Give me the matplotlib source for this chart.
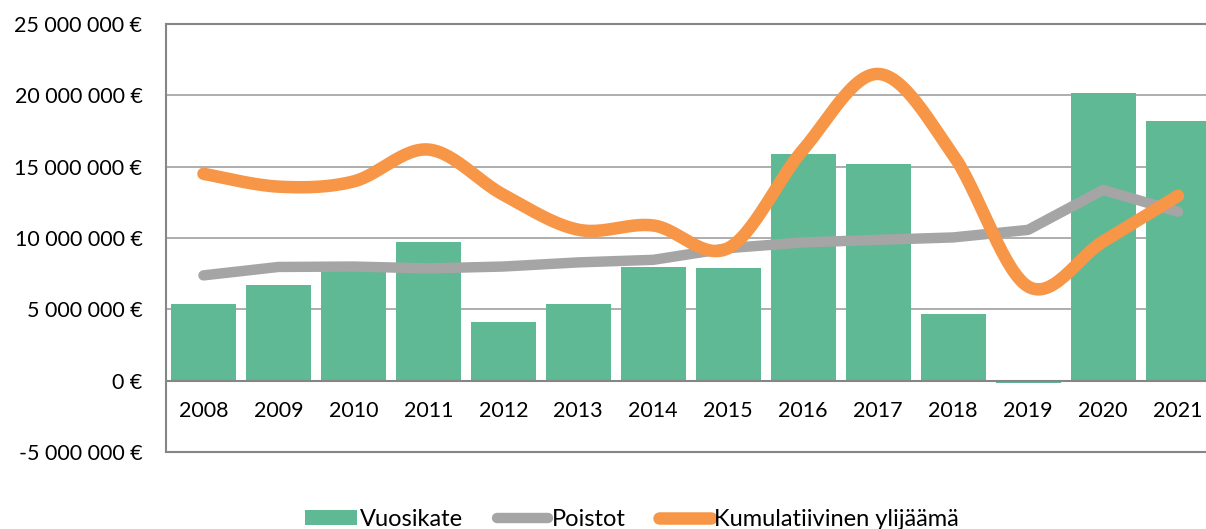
import numpy as np
import matplotlib.pyplot as plt
from matplotlib.ticker import FuncFormatter

vuodet = ['2008', '2009', '2010', '2011', '2012', '2013', '2014',
          '2015', '2016', '2017', '2018', '2019', '2020', '2021']
vuosikate = [5.40e6, 6.68e6, 7.70e6, 9.72e6, 4.13e6, 5.40e6, 7.98e6,
             7.91e6, 15.87e6, 15.22e6, 4.67e6, -0.16e6, 20.15e6, 18.19e6]
poistot = [7.38e6, 7.97e6, 8.00e6, 7.87e6, 8.00e6, 8.29e6, 8.47e6,
           9.29e6, 9.69e6, 9.87e6, 10.04e6, 10.57e6, 13.37e6, 11.84e6]
kumulatiivinen = [14.5e6, 13.6e6, 13.96e6, 16.2e6, 13.03e6, 10.58e6, 10.88e6,
                  9.29e6, 16.2e6, 21.5e6, 15.83e6, 6.6e6, 9.75e6, 12.96e6]

vihrea = '#5FB995'
harmaa = '#A5A5A5'
oranssi = '#F79646'

plt.rcParams['font.family'] = ['Lato', 'DejaVu Sans']


def tasoitus(y, n=30):
    # Excel-tyylinen pehmennetty viiva (Catmull-Rom -> Bezier)
    y = np.asarray(y, dtype=float)
    x = np.arange(len(y), dtype=float)
    px = np.concatenate([[x[0]], x, [x[-1]]])
    py = np.concatenate([[y[0]], y, [y[-1]]])
    xs, ys = [], []
    t = np.linspace(0, 1, n)
    for i in range(len(y) - 1):
        p0 = np.array([px[i + 1], py[i + 1]])
        p3 = np.array([px[i + 2], py[i + 2]])
        c1 = p0 + (np.array([px[i + 2], py[i + 2]]) - np.array([px[i], py[i]])) / 6
        c2 = p3 - (np.array([px[i + 3], py[i + 3]]) - np.array([px[i + 1], py[i + 1]])) / 6
        for k in t:
            b = ((1 - k) ** 3) * p0 + 3 * ((1 - k) ** 2) * k * c1 + 3 * (1 - k) * k ** 2 * c2 + k ** 3 * p3
            xs.append(b[0])
            ys.append(b[1])
    return np.array(xs), np.array(ys)


fig = plt.figure(figsize=(12.06, 5.29), dpi=100)
ax = fig.add_axes([166 / 1206, 77 / 529, 1049.5 / 1206, 428 / 529])

x = np.arange(len(vuodet))
palkit = ax.bar(x, vuosikate, width=0.867, color=vihrea, zorder=2, label='Vuosikate')
ax.axhline(0, color='#868686', lw=1.5, zorder=3)
viiva1, = ax.plot(x, poistot, color=harmaa, lw=7.5, solid_capstyle='round',
                  solid_joinstyle='round', zorder=4, label='Poistot')
sx, sy = tasoitus(kumulatiivinen)
viiva2, = ax.plot(sx, sy, color=oranssi, lw=9, solid_capstyle='round', zorder=5,
                  label='Kumulatiivinen ylijäämä')

ax.set_xlim(-0.5, len(vuodet) - 0.5)
ax.set_ylim(-5e6, 25e6)
ax.set_yticks(np.arange(-5e6, 25e6 + 1, 5e6))
ax.yaxis.set_major_formatter(FuncFormatter(lambda v, p: f'{int(v):,} €'.replace(',', ' ')))
ax.tick_params(axis='y', length=0, pad=17, labelsize=15.5)
ax.set_xticks([])
ax.grid(axis='y', color='#A0A0A0', lw=1.2, zorder=0)
ax.set_axisbelow(True)
for s in ['left', 'bottom', 'top', 'right']:
    ax.spines[s].set_color('#868686')
    ax.spines[s].set_linewidth(1.5)

for i, v in enumerate(vuodet):
    ax.text(i, -2.1e6, v, ha='center', va='center', fontsize=15.5)

fig.legend([palkit, viiva1, viiva2],
           ['Vuosikate', 'Poistot', 'Kumulatiivinen ylijäämä'],
           loc='center', bbox_to_anchor=(632 / 1206, 1 - 519 / 529), ncol=3,
           frameon=False, fontsize=17, handlelength=2.2, handleheight=0.6,
           handletextpad=0.15, columnspacing=1.4)

plt.savefig('out.png', dpi=100)
